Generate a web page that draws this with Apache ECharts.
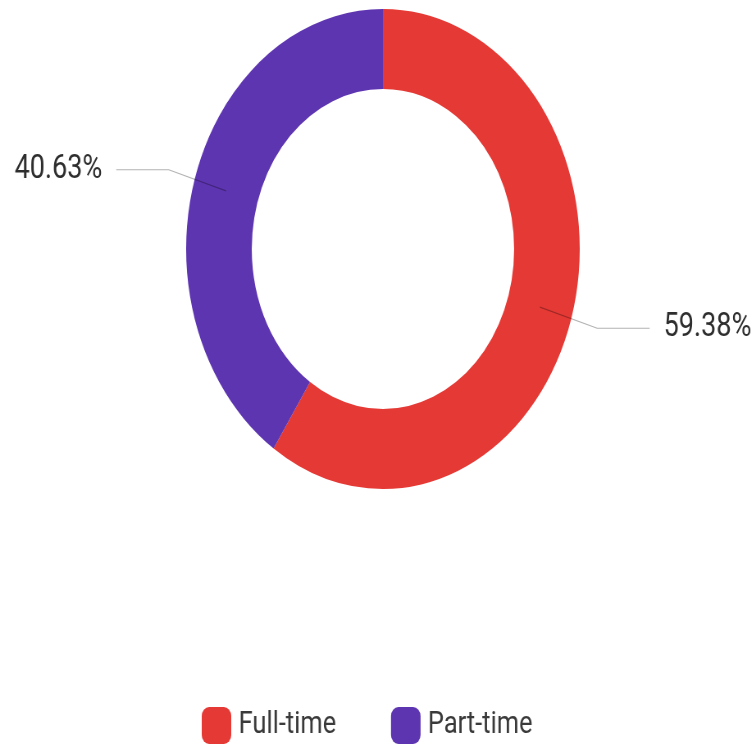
<!DOCTYPE html>
<html>
<head>
<meta charset="utf-8">
<script src="https://cdn.jsdelivr.net/npm/echarts@6/dist/echarts.min.js"></script>
<style>
html,body{margin:0;padding:0;background:#fff;overflow:hidden;width:756px;height:751px;}
#wrap{width:756px;height:751px;overflow:hidden;position:relative;}
#chart{width:922px;height:751px;transform:scaleX(0.82);transform-origin:0 0;position:absolute;left:0;top:0;}
</style>
</head>
<body>
<div id="wrap"><div id="chart"></div></div>
<script>
const categories = ['Full-time', 'Part-time'];
const values = [19, 13];
const sliceColors = ['#e53935', '#5e35b1'];

const total = values.reduce((a, b) => a + b, 0);
const pieData = categories.map((c, i) => ({ name: c, value: values[i], itemStyle: { color: sliceColors[i] } }));
const labelData = categories.map((c, i) => ({ name: c, value: values[i] }));

const chart = echarts.init(document.getElementById('chart'), null, { renderer: 'canvas' });
chart.setOption({
  animation: false,
  backgroundColor: '#ffffff',
  legend: {
    data: categories.map((c, i) => ({ name: c, itemStyle: { color: sliceColors[i] } })),
    left: 241,
    bottom: 2,
    icon: 'roundRect',
    itemWidth: 36,
    itemHeight: 37,
    itemGap: 67,
    selectedMode: false,
    textStyle: { fontSize: 31, color: '#3a3a3a', fontFamily: 'Roboto', padding: [0, 0, 0, 4] }
  },
  series: [
    {
      type: 'pie',
      z: 2,
      center: [467, 249],
      radius: [160, 240],
      startAngle: 90,
      clockwise: true,
      silent: true,
      label: { show: false },
      labelLine: { show: false },
      emphasis: { disabled: true },
      data: pieData
    },
    {
      type: 'pie',
      z: 5,
      center: [467, 249],
      radius: [199, 200],
      startAngle: 90,
      clockwise: true,
      silent: true,
      avoidLabelOverlap: false,
      itemStyle: { color: 'rgba(0,0,0,0)' },
      emphasis: { disabled: true },
      label: {
        show: true,
        position: 'outside',
        distanceToLabelLine: 17,
        fontSize: 33,
        color: '#2e2e2e',
        fontFamily: 'Roboto',
        formatter: p => (p.value / total * 100).toFixed(2) + '%'
      },
      labelLine: {
        show: true,
        length: 73,
        length2: 64,
        lineStyle: { color: 'rgba(0,0,0,0.3)', width: 1.2 }
      },
      data: labelData
    }
  ]
});
</script>
</body>
</html>
